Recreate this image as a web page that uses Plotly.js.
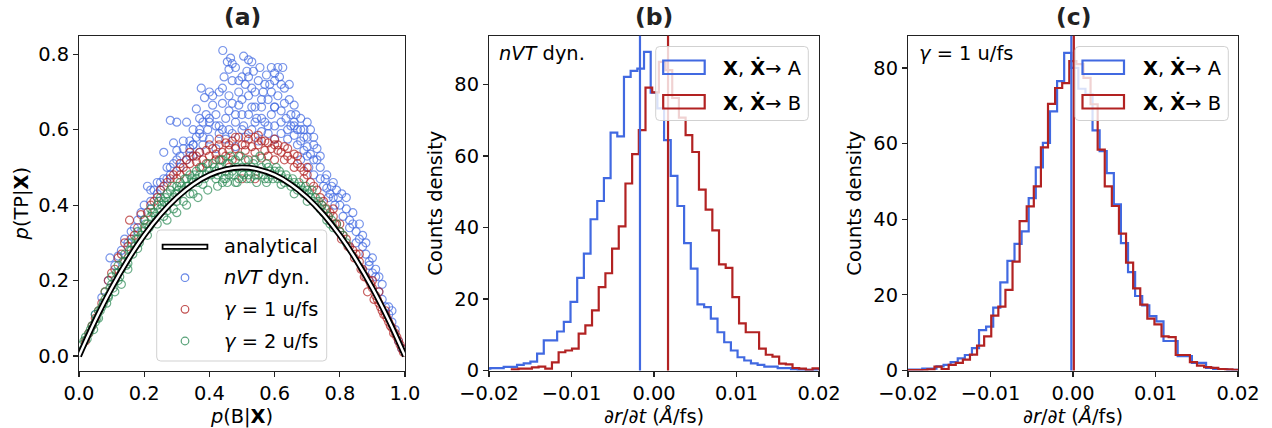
<!DOCTYPE html>
<html><head><meta charset="utf-8">
<script src="https://cdn.plot.ly/plotly-3.0.1.min.js"></script>
<style>html,body{margin:0;padding:0;background:#fff}</style>
</head><body><div id="chart" style="width:1272px;height:428px"></div>
<script>
// ---------- Panel (a) data ----------
const nvtX = [0.441,0.455,0.47,0.46,0.48,0.50,0.515,0.52,0.53,0.51,0.49,0.47,0.445,0.43,0.555,0.575,0.59,0.61,0.625,0.60,0.585,0.63,0.55,0.54,0.565,0.645,0.66,0.61,0.58,0.52,
0.375,0.385,0.40,0.41,0.37,0.38,0.395,0.42,0.44,0.45,0.46,0.48,0.49,0.50,0.505,0.53,0.545,0.56,0.57,0.59,0.60,0.62,0.635,0.65,0.665,0.68,0.70,0.71,0.69,0.35,0.33,0.30,0.28,
0.29,0.26,0.30,0.32,0.34,0.36,0.38,0.40,0.42,0.43,0.45,0.47,0.48,0.51,0.53,0.55,0.56,0.58,0.60,0.62,0.64,0.66,0.67,0.69,0.70,0.71,0.72,0.73,0.74,0.705,0.68,
0.72,0.74,0.75,0.76,0.77,0.78,0.79,0.806,0.80,0.82,0.83,0.84,0.85,0.86,0.87,0.88,0.89,0.90,0.91,0.92,0.93,0.94,0.95,0.96,0.97,0.98,0.99,
0.05,0.07,0.09,0.095,0.11,0.12,0.13,0.14,0.15,0.16,0.17,0.18,0.19,0.20,0.21,0.22,0.23,0.24,0.25,0.26,0.27,0.28,0.29,0.31,0.33,0.35,0.37,
0.36,0.37,0.39,0.40,0.41,0.43,0.44,0.46,0.47,0.49,0.50,0.52,0.53,0.54,0.56,0.57,0.59,0.60,0.62,0.63,0.65,0.66,0.67,0.68,0.69,0.70,0.72,0.73,
0.34,0.35,0.37,0.38,0.40,0.42,0.44,0.46,0.48,0.50,0.52,0.54,0.56,0.58,0.60,0.62,0.64,0.66,0.68,0.70,0.72,0.74,0.76,0.78,
0.22,0.24,0.25,0.27,0.28,0.30,0.31,0.32,0.34,0.35,0.82,0.84,0.86,0.87,0.88,0.90,0.92,0.93,0.95,0.96,0.81,0.83,0.85,0.89,0.91,0.755,0.765,0.775,0.785,0.795,
0.465,0.505,0.535,0.60,0.645,0.615];
const nvtY = [0.81,0.78,0.775,0.76,0.765,0.74,0.755,0.785,0.78,0.72,0.70,0.73,0.74,0.70,0.765,0.745,0.765,0.765,0.765,0.73,0.72,0.71,0.73,0.70,0.70,0.68,0.665,0.69,0.68,0.69,
0.71,0.685,0.70,0.665,0.63,0.62,0.60,0.64,0.67,0.63,0.65,0.62,0.665,0.64,0.61,0.66,0.63,0.66,0.62,0.64,0.61,0.65,0.63,0.61,0.64,0.60,0.62,0.60,0.58,0.60,0.62,0.62,0.625,
0.565,0.54,0.545,0.57,0.55,0.58,0.56,0.575,0.55,0.59,0.575,0.59,0.555,0.58,0.60,0.57,0.595,0.59,0.575,0.59,0.575,0.585,0.56,0.545,0.555,0.535,0.56,0.52,0.50,0.50,0.52,
0.48,0.47,0.45,0.445,0.43,0.42,0.44,0.43,0.40,0.39,0.36,0.35,0.33,0.31,0.29,0.27,0.25,0.22,0.21,0.17,0.15,0.13,0.11,0.09,0.07,0.04,0.02,
0.11,0.155,0.20,0.26,0.24,0.265,0.28,0.31,0.30,0.33,0.34,0.36,0.38,0.40,0.45,0.41,0.44,0.43,0.46,0.47,0.50,0.48,0.51,0.50,0.52,0.53,0.54,
0.655,0.59,0.64,0.62,0.69,0.61,0.71,0.69,0.67,0.73,0.68,0.74,0.71,0.66,0.68,0.72,0.70,0.66,0.72,0.67,0.64,0.62,0.60,0.63,0.60,0.58,0.58,0.55,
0.57,0.56,0.60,0.58,0.63,0.61,0.60,0.60,0.64,0.60,0.64,0.62,0.63,0.61,0.66,0.62,0.60,0.61,0.57,0.53,0.52,0.53,0.48,0.46,
0.44,0.46,0.44,0.47,0.50,0.52,0.53,0.55,0.53,0.56,0.42,0.38,0.35,0.32,0.30,0.26,0.21,0.19,0.13,0.12,0.37,0.34,0.30,0.24,0.23,0.47,0.42,0.45,0.40,0.42,
0.79,0.795,0.755,0.75,0.72,0.74];

const g1X = [0.02,0.04,0.06,0.08,0.09,0.10,0.12,0.14,0.155,0.16,0.18,0.19,0.20,0.22,0.24,0.25,0.27,0.28,0.30,0.31,0.32,0.33,0.34,0.35,0.36,0.37,
0.38,0.39,0.40,0.41,0.42,0.43,0.44,0.45,0.46,0.47,0.48,0.49,0.50,0.51,0.52,0.53,0.54,0.55,0.56,0.57,0.58,0.59,0.60,0.61,0.62,0.63,0.64,0.65,0.66,0.67,0.68,0.69,0.70,0.71,0.72,0.43,0.47,0.52,0.56,0.60,0.54,0.50,0.46,
0.73,0.74,0.75,0.76,0.77,0.78,0.79,0.80,0.81,0.82,0.83,0.84,0.85,0.86,0.87,0.88,0.885,0.89,0.90,0.905,0.91,0.92,0.93,0.94,0.95,0.96,0.97,0.98,0.99,0.995,
0.30,0.31,0.33,0.34,0.36,0.37,0.39,0.40,0.42,0.43,0.45,0.46,0.48,0.49,0.51,0.52,0.54,0.55,0.57,0.58,0.60,0.61,0.63,0.64,0.66,0.67,0.69,0.70,
0.03,0.05,0.07,0.11,0.13,0.15,0.17,0.21,0.23,0.26,0.29,0.745,0.765,0.785,0.805,0.825,0.845,0.865,0.875,0.895,0.915,0.925,0.935,0.945,0.955,0.965,0.975,0.985,0.86,0.90,0.92,0.94,0.80,0.78];
const g1Y = [0.04,0.08,0.12,0.17,0.20,0.22,0.26,0.30,0.36,0.31,0.34,0.375,0.36,0.40,0.42,0.44,0.46,0.47,0.49,0.51,0.50,0.52,0.51,0.53,0.515,0.54,
0.52,0.545,0.53,0.55,0.535,0.56,0.54,0.565,0.545,0.57,0.55,0.58,0.56,0.545,0.575,0.555,0.58,0.56,0.57,0.545,0.565,0.55,0.56,0.545,0.54,0.555,0.53,0.52,0.535,0.51,0.50,0.49,0.48,0.46,0.45,0.52,0.52,0.52,0.525,0.52,0.47,0.47,0.50,
0.44,0.42,0.41,0.39,0.38,0.37,0.35,0.33,0.32,0.31,0.29,0.28,0.27,0.25,0.23,0.21,0.17,0.20,0.18,0.15,0.16,0.14,0.12,0.11,0.09,0.075,0.06,0.04,0.02,0.01,
0.47,0.48,0.49,0.54,0.53,0.50,0.51,0.56,0.52,0.575,0.53,0.56,0.58,0.53,0.56,0.59,0.54,0.585,0.57,0.53,0.575,0.56,0.52,0.55,0.50,0.53,0.47,0.50,
0.06,0.10,0.14,0.23,0.27,0.29,0.32,0.38,0.41,0.45,0.48,0.40,0.37,0.35,0.31,0.29,0.26,0.23,0.21,0.19,0.15,0.13,0.11,0.10,0.08,0.06,0.05,0.03,0.27,0.20,0.17,0.12,0.35,0.39];

const g2X = [0.01,0.02,0.03,0.04,0.05,0.05,0.06,0.07,0.08,0.08,0.09,0.10,0.10,0.11,0.12,0.12,0.13,0.14,0.14,0.15,0.16,0.16,0.17,0.18,0.18,0.19,0.20,0.20,0.21,0.22,
0.22,0.23,0.24,0.25,0.25,0.26,0.27,0.27,0.28,0.29,0.30,0.30,0.31,0.32,0.33,0.33,0.34,0.35,0.36,0.36,0.37,0.38,0.39,0.40,0.41,0.42,0.43,0.44,0.45,0.45,
0.46,0.47,0.48,0.49,0.50,0.51,0.52,0.53,0.54,0.55,0.56,0.57,0.58,0.59,0.60,0.61,0.62,0.63,0.64,0.65,0.66,0.67,0.68,0.69,0.70,0.71,0.72,0.73,0.74,0.75,
0.76,0.77,0.78,0.80,0.82,0.26,0.29,0.32,0.44,0.48,0.35,0.15,0.11,0.13,0.33,0.30,0.27,
0.015,0.025,0.035,0.045,0.055,0.065,0.075,0.085,0.095,0.105,0.115,0.125,0.135,0.145,0.155,0.165,0.175,0.185,0.195,0.205,0.215,0.225,0.235,0.245,0.255,0.265,0.275,0.285,0.295,0.305,
0.315,0.325,0.335,0.345,0.355,0.365,0.375,0.385,0.395,0.405,0.415,0.425,0.435,0.445,0.455,0.465,0.475,0.485,0.495,0.505,0.515,0.525,0.535,0.545,0.555,0.565,0.575,0.585,0.595,0.605,
0.615,0.625,0.635,0.645,0.655,0.665,0.675,0.685,0.695,0.705,0.715,0.725,0.735,0.745,0.755,0.765,0.775,0.79,0.81,0.365,0.395,0.425,0.455,0.485,0.515,0.545,0.575,
0.06,0.09,0.12,0.15,0.18,0.21,0.24,0.27,0.30,0.34,0.38,0.42,0.46,0.50,0.54,0.58,0.62,0.66,0.70];
const g2Y = [0.03,0.05,0.06,0.08,0.09,0.11,0.12,0.13,0.15,0.17,0.16,0.19,0.21,0.20,0.22,0.24,0.23,0.25,0.27,0.26,0.28,0.30,0.29,0.31,0.33,0.32,0.34,0.36,0.35,0.37,
0.39,0.38,0.40,0.39,0.42,0.41,0.43,0.40,0.44,0.42,0.45,0.43,0.46,0.44,0.47,0.45,0.48,0.46,0.49,0.47,0.48,0.50,0.48,0.49,0.51,0.49,0.50,0.52,0.49,0.47,
0.51,0.49,0.52,0.47,0.50,0.52,0.48,0.50,0.52,0.48,0.50,0.47,0.50,0.48,0.49,0.47,0.48,0.46,0.47,0.45,0.46,0.44,0.45,0.43,0.44,0.42,0.41,0.40,0.39,0.38,
0.36,0.35,0.34,0.33,0.30,0.37,0.39,0.41,0.46,0.46,0.43,0.23,0.17,0.19,0.40,0.38,0.36,
0.04,0.045,0.07,0.07,0.10,0.12,0.14,0.14,0.18,0.18,0.22,0.21,0.25,0.24,0.28,0.27,0.31,0.30,0.33,0.35,0.34,0.38,0.37,0.41,0.40,0.42,0.41,0.45,0.43,0.44,
0.45,0.47,0.45,0.47,0.48,0.46,0.50,0.47,0.51,0.48,0.50,0.48,0.52,0.47,0.51,0.53,0.48,0.50,0.53,0.48,0.50,0.47,0.51,0.49,0.53,0.48,0.51,0.49,0.47,0.50,
0.49,0.47,0.48,0.46,0.47,0.45,0.46,0.44,0.45,0.43,0.44,0.42,0.41,0.40,0.39,0.37,0.36,0.35,0.32,0.42,0.44,0.45,0.46,0.46,0.47,0.46,0.46,
0.10,0.155,0.20,0.245,0.285,0.32,0.35,0.385,0.41,0.43,0.455,0.47,0.48,0.485,0.48,0.47,0.455,0.43,0.41];

const curveX = [0,0.05,0.1,0.15,0.2,0.25,0.3,0.35,0.4,0.45,0.5,0.55,0.6,0.65,0.7,0.75,0.8,0.85,0.9,0.95,1];
const curveY = [0,0.095,0.18,0.255,0.32,0.375,0.42,0.455,0.48,0.495,0.5,0.495,0.48,0.455,0.42,0.375,0.32,0.255,0.18,0.095,0];

// ---------- Panel (b) data : nVT dyn. ----------
const bBinW = 0.00081;
const bBlueStart = -0.02065;
const bBlueCounts = [0.5,0.65,0.65,1.0,1.0,1.6,2.0,2.5,4.7,8.4,8.4,10.9,13.6,19.2,25.9,32.7,42.3,47.4,53.8,66.5,65.5,82.1,83.8,84.4,89.1,
77.7,73.3,64.4,54.4,46.0,35.6,28.5,18.5,17.7,14.5,10.7,7.9,5.6,3.7,2.8,2.0,1.6,1.1,1.1,0.65,0.65,0.3,0.2,0.2,0.1];
const bRedStart = -0.01723;
const bRedCounts = [0.3,0.5,0.5,0.9,1.1,0.5,2.3,5.1,5.6,6.1,10.3,12.6,16.8,23.3,27.2,34.1,40.3,52.3,60.5,67.2,
79.1,77.8,86.3,84.0,76.2,70.7,65.8,61.1,50.6,45.0,39.2,29.7,28.7,20.5,13.2,10.7,10.7,6.1,4.4,3.9,1.9,1.7,0.7,0.5,0.2,0.6];
const bMeans = [-0.0017, 0.0017];   // blue, red

// ---------- Panel (c) data : gamma = 1 u/fs ----------
const cBinW = 0.00086;
const cBlueStart = -0.02085;
const cBlueCounts = [0.2,0.26,0.26,0.5,0.5,1.1,1.5,2.2,3.2,4.1,5.9,10.7,11.6,16.6,23.3,29.0,33.5,36.8,45.6,53.7,60.2,68.5,76.5,
84.0,80.0,74.5,73.0,63.5,58.0,52.2,43.9,33.7,26.0,19.7,17.2,14.4,13.0,7.8,7.8,3.8,3.8,2.0,2.0,0.7,0.4,0.4,0.2,0.2];
const cRedStart = -0.02023;
const cRedCounts = [0.1,0.1,0.1,0.3,1.0,0.4,1.5,2.0,2.9,4.2,6.6,9.0,14.5,16.9,21.3,28.8,39.5,43.4,48.7,59.0,70.5,74.7,
76.0,81.8,81.0,77.4,70.4,58.4,48.7,43.5,36.2,28.5,21.7,17.4,13.7,12.2,9.0,8.8,4.1,4.1,2.2,1.3,0.9,0.7,0.4,0.3,0.2,0.2];
const cMeans = [-0.0002, 0.0001];

const xTicksA = [0,0.2,0.4,0.6,0.8,1.0];
const yTicksA = [0,0.2,0.4,0.6,0.8];
const xTicksH = [-0.02,-0.01,0,0.01,0.02];
const yTicksH = [0,20,40,60,80];

// ---------- helpers ----------
const W = 1272, H = 428;
const px = X => X / W;
const py = Y => 1 - Y / H;
const FONT = 'DejaVu Sans, Arial, sans-serif';
const FS = 19.4;
const BLUE = '#4169E1', RED = '#B22222', GREEN = '#2E8B57';

function stepXY(start, w, counts){
  const xs = [start], ys = [0];
  counts.forEach((c,i)=>{ xs.push(start + i*w); ys.push(c); });
  xs.push(start + counts.length*w); ys.push(0);
  return {x: xs, y: ys};
}

const traces = [];
function scat(x,y,color){
  return {x, y, type:'scatter', mode:'markers', xaxis:'x', yaxis:'y', hoverinfo:'skip',
    marker:{symbol:'circle-open', size:8, color, opacity:0.7, line:{width:1.2, color}}};
}
traces.push(scat(nvtX, nvtY, BLUE));
traces.push(scat(g1X, g1Y, RED));
traces.push(scat(g2X, g2Y, GREEN));
traces.push({x:curveX, y:curveY, type:'scatter', mode:'lines', xaxis:'x', yaxis:'y', line:{color:'#000', width:6, shape:'spline'}, hoverinfo:'skip'});
traces.push({x:curveX, y:curveY, type:'scatter', mode:'lines', xaxis:'x', yaxis:'y', line:{color:'#fff', width:2.4, shape:'spline'}, hoverinfo:'skip'});

function hist(start, w, counts, color, xa, ya){
  const s = stepXY(start, w, counts);
  return {x:s.x, y:s.y, type:'scatter', mode:'lines', xaxis:xa, yaxis:ya, line:{color, width:2.2, shape:'hv'}, hoverinfo:'skip'};
}
traces.push(hist(bBlueStart, bBinW, bBlueCounts, BLUE, 'x2', 'y2'));
traces.push(hist(bRedStart, bBinW, bRedCounts, RED, 'x2', 'y2'));
traces.push(hist(cBlueStart, cBinW, cBlueCounts, BLUE, 'x3', 'y3'));
traces.push(hist(cRedStart, cBinW, cRedCounts, RED, 'x3', 'y3'));

// ---------- axes ----------
const YD = [1 - 370.5/H, 1 - 35.8/H];
function axis(extra){
  return Object.assign({showline:true, mirror:true, linecolor:'#222', linewidth:1.1,
    ticks:'outside', ticklen:5, tickwidth:1.1, tickcolor:'#222', showgrid:false, zeroline:false,
    automargin:false, fixedrange:true,
    tickfont:{family:FONT, size:FS, color:'#000'}}, extra);
}
function ttl(text, standoff){ return {text, font:{family:FONT, size:FS, color:'#000'}, standoff}; }

const HX = '∂<i>r</i>/∂<i>t</i> (<i>Å</i>/fs)';
const layout = {
  width:W, height:H, margin:{l:0,r:0,t:0,b:0}, paper_bgcolor:'#fff', plot_bgcolor:'#fff',
  showlegend:false,
  xaxis: axis({domain:[px(79), px(405)], range:[0,1], anchor:'y', tickvals:xTicksA, tickformat:'.1f',
    title: ttl('<i>p</i>(B|<b>X</b>)', 2)}),
  yaxis: axis({domain:YD, range:[-0.0385, 0.849], anchor:'x', tickvals:yTicksA, tickformat:'.1f',
    title: ttl('<i>p</i>(TP|<b>X</b>)', 4)}),
  xaxis2: axis({domain:[px(489), px(819)], range:[-0.02,0.02], anchor:'y2', tickvals:xTicksH, tickformat:'.2f',
    title: ttl(HX, 2)}),
  yaxis2: axis({domain:YD, range:[0, 93.6], anchor:'x2', tickvals:yTicksH,
    title: ttl('Counts density', 6)}),
  xaxis3: axis({domain:[px(908), px(1238)], range:[-0.02,0.02], anchor:'y3', tickvals:xTicksH, tickformat:'.2f',
    title: ttl(HX, 2)}),
  yaxis3: axis({domain:YD, range:[0, 88.5], anchor:'x3', tickvals:yTicksH,
    title: ttl('Counts density', 6)}),
  shapes: [], annotations: []
};

// mean lines
[['x2', bMeans], ['x3', cMeans]].forEach(([xa, m])=>{
  [BLUE, RED].forEach((col, i)=>{
    layout.shapes.push({type:'line', xref:xa, yref:(xa==='x2'?'y2':'y3')+' domain', x0:m[i], x1:m[i], y0:0, y1:1,
      line:{color:col, width:2.2}, layer:'above'});
  });
});

function rr(x0,y0,x1,y1,r){
  return `M${px(x0+r)},${py(y0)} L${px(x1-r)},${py(y0)} Q${px(x1)},${py(y0)} ${px(x1)},${py(y0+r)} `+
         `L${px(x1)},${py(y1-r)} Q${px(x1)},${py(y1)} ${px(x1-r)},${py(y1)} `+
         `L${px(x0+r)},${py(y1)} Q${px(x0)},${py(y1)} ${px(x0)},${py(y1-r)} `+
         `L${px(x0)},${py(y0+r)} Q${px(x0)},${py(y0)} ${px(x0+r)},${py(y0)} Z`;
}
function legendBox(x0,y0,x1,y1){
  layout.shapes.push({type:'path', xref:'paper', yref:'paper', path:rr(x0,y0,x1,y1,4),
    fillcolor:'rgba(255,255,255,0.8)', line:{color:'rgba(204,204,204,0.9)', width:1}, layer:'above'});
}
function txt(X, Y, text, opts){
  layout.annotations.push(Object.assign({xref:'paper', yref:'paper', x:px(X), y:py(Y), text, showarrow:false,
    xanchor:'left', yanchor:'middle', font:{family:FONT, size:FS, color:'#000'}}, opts||{}));
}

// legend (a)
legendBox(156.7, 230, 326.7, 361);
layout.shapes.push({type:'line', xref:'paper', yref:'paper', x0:px(161.7), x1:px(208.3), y0:py(246.7), y1:py(246.7), line:{color:'#000', width:6}, layer:'above'});
layout.shapes.push({type:'line', xref:'paper', yref:'paper', x0:px(163.5), x1:px(206.5), y0:py(246.7), y1:py(246.7), line:{color:'#fff', width:2.4}, layer:'above'});
[[277.7, BLUE],[309.3, RED],[341, GREEN]].forEach(([Y,col])=>{
  layout.shapes.push({type:'circle', xref:'paper', yref:'paper', x0:px(185-3.8), x1:px(185+3.8), y0:py(Y+3.8), y1:py(Y-3.8),
    line:{color:col, width:1.2}, opacity:0.8, layer:'above'});
});
txt(221.7, 246.7, 'analytical');
txt(221.7, 277.7, '<i>nVT</i> dyn.');
txt(221.7, 309.3, '<i>γ</i> = 1 u/fs');
txt(221.7, 341, '<i>γ</i> = 2 u/fs');

// legends (b), (c)
[[655.7, 808.3], [1075, 1228.3]].forEach(([x0,x1])=>{
  legendBox(x0, 46.5, x1, 120.5);
  const sx = x0 + 7.5;
  layout.shapes.push({type:'rect', xref:'paper', yref:'paper', x0:px(sx), x1:px(sx+41.5), y0:py(74), y1:py(60.5), line:{color:BLUE, width:2.2}, fillcolor:'rgba(0,0,0,0)', layer:'above'});
  layout.shapes.push({type:'rect', xref:'paper', yref:'paper', x0:px(sx), x1:px(sx+41.5), y0:py(108.5), y1:py(95), line:{color:RED, width:2.2}, fillcolor:'rgba(0,0,0,0)', layer:'above'});
  txt(x0 + 65.5, 68, '<b>X</b>, <b>Ẋ</b>→ A');
  txt(x0 + 65.5, 102.5, '<b>X</b>, <b>Ẋ</b>→ B');
});

// inner labels
txt(497, 53, '<i>nVT</i> dyn.');
txt(917, 53, '<i>γ</i> = 1 u/fs');

// panel titles
[['(a)', 242], ['(b)', 654], ['(c)', 1073]].forEach(([t, X])=>{
  txt(X, 17, '<b>'+t+'</b>', {xanchor:'center', font:{family:FONT, size:23.5, color:'#222'}});
});

Plotly.newPlot('chart', traces, layout, {staticPlot:true, displayModeBar:false});
</script></body></html>
